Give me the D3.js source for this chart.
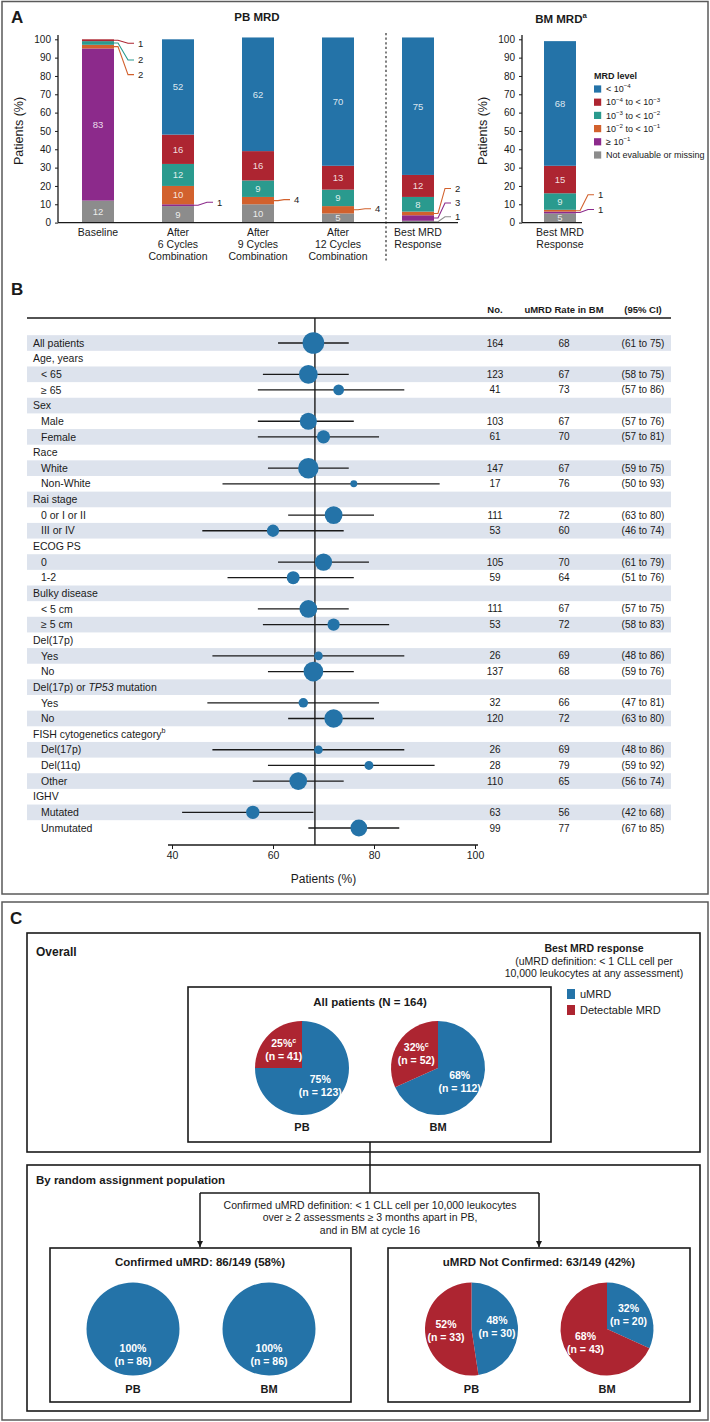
<!DOCTYPE html>
<html><head><meta charset="utf-8">
<script src="https://cdn.jsdelivr.net/npm/d3@7"></script>
<style>
body{margin:0;background:#fff;}
svg{display:block;font-family:"Liberation Sans",Arial,Helvetica,sans-serif;}
</style></head><body>
<svg id="c" width="710" height="1422"></svg>
<script>
// ================= DATA =================
// Panel A – PB MRD (stacked, % of patients), bottom to top
const pbCategories = ["Baseline", "After 6 Cycles Combination", "After 9 Cycles Combination", "After 12 Cycles Combination", "Best MRD Response"];
const pbCategoryLines = [["Baseline"], ["After", "6 Cycles", "Combination"], ["After", "9 Cycles", "Combination"], ["After", "12 Cycles", "Combination"], ["Best MRD", "Response"]];
const pbNotEvaluable = [12, 9, 10, 5, 1];
const pbGe1 = [83, 1, 0, 0, 3];
const pb2to1 = [2, 10, 4, 4, 2];
const pb3to2 = [2, 12, 9, 9, 8];
const pb4to3 = [1, 16, 16, 13, 12];
const pbLt4 = [0, 52, 62, 70, 75];
// Panel A – BM MRD
const bmCategories = ["Best MRD Response"];
const bmCategoryLines = [["Best MRD", "Response"]];
const bmNotEvaluable = [5];
const bmGe1 = [1];
const bm2to1 = [1];
const bm3to2 = [9];
const bm4to3 = [15];
const bmLt4 = [68];
const yTicksA = [0, 10, 20, 30, 40, 50, 60, 70, 80, 90, 100];
const mrdLevelLabels = ["< 10^{−4}", "10^{−4} to < 10^{−3}", "10^{−3} to < 10^{−2}", "10^{−2} to < 10^{−1}", "≥ 10^{−1}", "Not evaluable or missing"];

// Panel B – forest plot
const forestLabels = ["All patients", "Age, years", "< 65", "≥ 65", "Sex", "Male", "Female", "Race", "White", "Non-White", "Rai stage", "0 or I or II", "III or IV", "ECOG PS", "0", "1-2", "Bulky disease", "< 5 cm", "≥ 5 cm", "Del(17p)", "Yes", "No", "Del(17p) or *TP53* mutation", "Yes", "No", "FISH cytogenetics category^{b}", "Del(17p)", "Del(11q)", "Other", "IGHV", "Mutated", "Unmutated"];
const forestIndent = [0, 0, 1, 1, 0, 1, 1, 0, 1, 1, 0, 1, 1, 0, 1, 1, 0, 1, 1, 0, 1, 1, 0, 1, 1, 0, 1, 1, 1, 0, 1, 1];
const forestN =    [164, null, 123, 41, null, 103, 61, null, 147, 17, null, 111, 53, null, 105, 59, null, 111, 53, null, 26, 137, null, 32, 120, null, 26, 28, 110, null, 63, 99];
const forestRate = [68, null, 67, 73, null, 67, 70, null, 67, 76, null, 72, 60, null, 70, 64, null, 67, 72, null, 69, 68, null, 66, 72, null, 69, 79, 65, null, 56, 77];
const forestLo =   [61, null, 58, 57, null, 57, 57, null, 59, 50, null, 63, 46, null, 61, 51, null, 57, 58, null, 48, 59, null, 47, 63, null, 48, 59, 56, null, 42, 67];
const forestHi =   [75, null, 75, 86, null, 76, 81, null, 75, 93, null, 80, 74, null, 79, 76, null, 75, 83, null, 86, 76, null, 81, 80, null, 86, 92, 74, null, 68, 85];
const forestRefRate = 68.3;
const forestTicks = [40, 60, 80, 100];
const forestHeaders = ["No.", "uMRD Rate in BM", "(95% CI)"];

// Panel C – pies (uMRD, detectable MRD)
const pieSites = ["PB", "BM"];
const overallUmrdN = [123, 112];
const overallDetectN = [41, 52];
const overallUmrdPct = [75, 68];
const overallDetectPct = [25, 32];
const confirmedUmrdN = [86, 86];
const confirmedDetectN = [0, 0];
const confirmedUmrdPct = [100, 100];
const confirmedDetectPct = [0, 0];
const notConfUmrdN = [30, 20];
const notConfDetectN = [33, 43];
const notConfUmrdPct = [48, 32];
const notConfDetectPct = [52, 68];

// ================= STYLE =================
const C = {blue: "#2473a8", red: "#ad2531", teal: "#2a9a8e", orange: "#d2612d", purple: "#8c2a8b", gray: "#8c8c8c", band: "#dde3ed", ink: "#1a1a1a"};
const levelKeys = ["ne", "ge1", "e2", "e3", "e4", "lt4"]; // bottom -> top
const levelColor = {lt4: C.blue, e4: C.red, e3: C.teal, e2: C.orange, ge1: C.purple, ne: C.gray};
const legendKeys = ["lt4", "e4", "e3", "e2", "ge1", "ne"];

// condensed font for panel C, if installed
const cv = document.createElement("canvas").getContext("2d");
function w(f) { cv.font = f; return cv.measureText("Overall All patients 164").width; }
const narrowOK = w("40px 'Liberation Sans Narrow', monospace") !== w("40px monospace");
const cFamily = narrowOK ? "'Liberation Sans Narrow', 'Liberation Sans', Arial, sans-serif" : "'Liberation Sans', Arial, sans-serif";
const cScale = narrowOK ? 1.16 : 1;

const svg = d3.select("#c");
svg.append("rect").attr("width", 710).attr("height", 1422).attr("fill", "#fff");

function rich(t, str, fs) {
  const parts = str.split(/(\^\{[^}]*\}|\*[^*]+\*)/).filter(s => s.length);
  let shifted = false;
  parts.forEach(p => {
    let ts;
    if (p.startsWith("^{")) {
      ts = t.append("tspan").text(p.slice(2, -1)).attr("font-size", fs * 0.68).attr("dy", -fs * 0.42);
      shifted = true;
      return;
    } else if (p.startsWith("*")) {
      ts = t.append("tspan").text(p.slice(1, -1)).attr("font-style", "italic");
    } else {
      ts = t.append("tspan").text(p);
    }
    if (shifted) { ts.attr("dy", fs * 0.42); shifted = false; }
  });
  return t;
}
function txt(g, x, y, s, fs, opt = {}) {
  const t = g.append("text").attr("x", x).attr("y", y).attr("font-size", fs)
    .attr("fill", opt.fill || C.ink).attr("text-anchor", opt.anchor || "start")
    .attr("font-weight", opt.bold ? "bold" : "normal").attr("dy", opt.dy || "0.35em");
  if (opt.family) t.attr("font-family", opt.family);
  rich(t, s, fs);
  return t;
}
function cTxt(g, x, y, s, fs, opt = {}) {
  return txt(g, x, y, s, fs * cScale, Object.assign({}, opt, {family: cFamily}));
}

// ================= PANEL A/B FRAME =================
svg.append("rect").attr("x", 2).attr("y", 1.5).attr("width", 706).attr("height", 892.5)
  .attr("fill", "none").attr("stroke", "#5a5a5a").attr("stroke-width", 1.5);
txt(svg, 11, 17, "A", 17, {bold: true});
txt(svg, 11, 289, "B", 17, {bold: true});

// ================= PANEL A =================
const yA = d3.scaleLinear().domain([0, 100]).range([222.6, 39.3]);
const barW = 32;

function stackedPanel(g, cats, lines, table, xScale, axisX0, axisX1, yTitleX, callouts) {
  const series = d3.stack().keys(levelKeys)(table);
  const ax = g.append("g").attr("transform", `translate(${axisX0},0)`)
    .call(d3.axisLeft(yA).tickValues(yTicksA).tickSize(3).tickSizeOuter(0));
  ax.select(".domain").attr("stroke", C.ink).attr("stroke-width", 1.3).attr("d", `M-0,${yA(0)}V35`);
  ax.selectAll(".tick line").attr("stroke", C.ink);
  ax.selectAll(".tick text").attr("font-size", 10).attr("fill", C.ink).attr("font-family", "Liberation Sans, Arial, sans-serif").attr("x", -7);
  g.append("text").attr("transform", `translate(${yTitleX},${(yA(0) + yA(100)) / 2}) rotate(-90)`)
    .attr("text-anchor", "middle").attr("dy", "0.35em").attr("font-size", 12.5).attr("fill", C.ink).text("Patients (%)");
  series.forEach(s => {
    s.forEach((d, i) => {
      const v = d[1] - d[0];
      if (v <= 0) return;
      const cx = xScale(cats[i]);
      g.append("rect").attr("x", cx - barW / 2).attr("y", yA(d[1])).attr("width", barW)
        .attr("height", yA(d[0]) - yA(d[1])).attr("fill", levelColor[s.key]);
      if (v >= 5) {
        g.append("text").attr("x", cx).attr("y", (yA(d[0]) + yA(d[1])) / 2).attr("dy", "0.35em")
          .attr("text-anchor", "middle").attr("font-size", 9.5).attr("fill", "#fff").attr("fill-opacity", 0.85).text(v);
      }
    });
  });
  callouts.forEach(co => {
    const s = series.find(ss => ss.key === co.key);
    const d = s[co.i];
    const v = d[1] - d[0];
    const x0 = xScale(cats[co.i]) + barW / 2;
    const y0 = (yA(d[0]) + yA(d[1])) / 2;
    const lx = x0 + co.dx, ly = y0 + co.dy;
    g.append("path").attr("d", `M${x0},${y0}L${x0 + 4},${y0}L${lx - 10},${ly}L${lx - 4},${ly}`)
      .attr("fill", "none").attr("stroke", levelColor[co.key]).attr("stroke-width", 1.1);
    g.append("text").attr("x", lx).attr("y", ly).attr("dy", "0.35em").attr("font-size", 9.5).attr("fill", C.ink).text(v);
  });
  g.append("line").attr("x1", axisX0).attr("x2", axisX1).attr("y1", yA(0)).attr("y2", yA(0))
    .attr("stroke", C.ink).attr("stroke-width", 1.3);
  cats.forEach((c, i) => {
    lines[i].forEach((ln, j) => {
      g.append("text").attr("x", xScale(c)).attr("y", 232.5 + j * 11.7).attr("dy", "0.35em")
        .attr("text-anchor", "middle").attr("font-size", 10.5).attr("fill", C.ink).text(ln);
    });
  });
}

const pbTable = pbCategories.map((c, i) => ({cat: c, ne: pbNotEvaluable[i], ge1: pbGe1[i], e2: pb2to1[i], e3: pb3to2[i], e4: pb4to3[i], lt4: pbLt4[i]}));
const bmTable = bmCategories.map((c, i) => ({cat: c, ne: bmNotEvaluable[i], ge1: bmGe1[i], e2: bm2to1[i], e3: bm3to2[i], e4: bm4to3[i], lt4: bmLt4[i]}));
const xPB = d3.scalePoint().domain(pbCategories).range([58, 458]).padding(0.5);
const xBM = d3.scalePoint().domain(bmCategories).range([522, 598]).padding(0.5);

const gA = svg.append("g");
stackedPanel(gA, pbCategories, pbCategoryLines, pbTable, xPB, 58, 458, 19, [
  {i: 0, key: "e4", dx: 24, dy: 3}, {i: 0, key: "e3", dx: 24, dy: 17}, {i: 0, key: "e2", dx: 24, dy: 28},
  {i: 1, key: "ge1", dx: 23, dy: -3},
  {i: 2, key: "e2", dx: 20, dy: -1},
  {i: 3, key: "e2", dx: 21, dy: -1},
  {i: 4, key: "e2", dx: 21, dy: -25}, {i: 4, key: "ge1", dx: 21, dy: -15}, {i: 4, key: "ne", dx: 21, dy: -5}
]);
stackedPanel(gA, bmCategories, bmCategoryLines, bmTable, xBM, 522, 582, 483, [
  {i: 0, key: "e2", dx: 22, dy: -16}, {i: 0, key: "ge1", dx: 22, dy: -3}
]);
txt(gA, 257, 17, "PB MRD", 11.5, {bold: true, anchor: "middle"});
txt(gA, 561, 19, "BM MRD^{a}", 11.5, {bold: true, anchor: "middle"});
gA.append("line").attr("x1", 386).attr("x2", 386).attr("y1", 33).attr("y2", 262)
  .attr("stroke", C.ink).attr("stroke-width", 1.1).attr("stroke-dasharray", "2.2,2.4");
const lg = gA.append("g");
txt(lg, 594, 76, "MRD level", 9, {bold: true});
legendKeys.forEach((k, j) => {
  const yy = 89 + j * 13.2;
  lg.append("rect").attr("x", 594).attr("y", yy - 3.6).attr("width", 7.2).attr("height", 7.2).attr("fill", levelColor[k]);
  txt(lg, 606, yy, mrdLevelLabels[j], 9);
});

// ================= PANEL B =================
const gB = svg.append("g");
const yF = d3.scalePoint().domain(d3.range(forestLabels.length)).range([343, 828]);
const rowH = yF.step();
const xF = d3.scaleLinear().domain([40, 100]).range([172, 475]);
const rF = d3.scaleSqrt().domain([0, 164]).range([0, 10.8]);
const colX = [495, 564, 643];

forestLabels.forEach((l, i) => {
  if (i % 2 === 0) gB.append("rect").attr("x", 27).attr("y", yF(i) - rowH / 2).attr("width", 644).attr("height", rowH).attr("fill", C.band);
});
forestHeaders.forEach((h, j) => txt(gB, colX[j], 310, h, 9.5, {bold: true, anchor: "middle"}));
gB.append("line").attr("x1", 27).attr("x2", 671).attr("y1", 318).attr("y2", 318).attr("stroke", C.ink).attr("stroke-width", 1.5);
gB.append("line").attr("x1", xF(forestRefRate)).attr("x2", xF(forestRefRate)).attr("y1", 318).attr("y2", 845)
  .attr("stroke", C.ink).attr("stroke-width", 1.4);
forestLabels.forEach((l, i) => {
  txt(gB, forestIndent[i] ? 41 : 33, yF(i), l, 10.5);
  if (forestN[i] == null) return;
  gB.append("line").attr("x1", xF(forestLo[i])).attr("x2", xF(forestHi[i])).attr("y1", yF(i)).attr("y2", yF(i))
    .attr("stroke", C.ink).attr("stroke-width", 1.3);
  gB.append("circle").attr("cx", xF(forestRate[i])).attr("cy", yF(i)).attr("r", rF(forestN[i])).attr("fill", C.blue);
  txt(gB, colX[0], yF(i), String(forestN[i]), 10, {anchor: "middle"});
  txt(gB, colX[1], yF(i), String(forestRate[i]), 10, {anchor: "middle"});
  txt(gB, colX[2], yF(i), `(${forestLo[i]} to ${forestHi[i]})`, 10, {anchor: "middle"});
});
const axB = gB.append("g").attr("transform", "translate(0,845)")
  .call(d3.axisBottom(xF).tickValues(forestTicks).tickSize(4).tickSizeOuter(0));
axB.select(".domain").attr("stroke", C.ink).attr("stroke-width", 1.4).attr("d", "M168,0H478");
axB.selectAll(".tick line").attr("stroke", C.ink);
axB.selectAll(".tick text").attr("font-size", 10.5).attr("fill", C.ink).attr("font-family", "Liberation Sans, Arial, sans-serif");
txt(gB, (xF(40) + xF(100)) / 2, 879, "Patients (%)", 12, {anchor: "middle"});

// ================= PANEL C =================
const gC = svg.append("g");
const boxStroke = (x, y, w, h, col, sw) => gC.append("rect").attr("x", x).attr("y", y).attr("width", w).attr("height", h)
  .attr("fill", "none").attr("stroke", col).attr("stroke-width", sw);
boxStroke(2, 902, 706, 518, "#5a5a5a", 1.5);
txt(gC, 10, 918, "C", 17, {bold: true});
boxStroke(27, 933, 673, 219, C.ink, 1.6);
cTxt(gC, 36, 952, "Overall", 12, {bold: true});
cTxt(gC, 594, 948, "Best MRD response", 10.5, {bold: true, anchor: "middle"});
cTxt(gC, 594, 961, "(uMRD definition: < 1 CLL cell per", 10.5, {anchor: "middle"});
cTxt(gC, 594, 973.5, "10,000 leukocytes at any assessment)", 10.5, {anchor: "middle"});
gC.append("rect").attr("x", 567).attr("y", 989).attr("width", 8).attr("height", 10).attr("fill", C.blue);
cTxt(gC, 580, 994, "uMRD", 11);
gC.append("rect").attr("x", 567).attr("y", 1005).attr("width", 8).attr("height", 10).attr("fill", C.red);
cTxt(gC, 580, 1010, "Detectable MRD", 11);

boxStroke(188, 987, 363, 155, C.ink, 1.6);
cTxt(gC, 370, 1002, "All patients (N = 164)", 11.5, {bold: true, anchor: "middle"});

boxStroke(27, 1165, 673, 246, C.ink, 1.6);
cTxt(gC, 36, 1180, "By random assignment population", 11.5, {bold: true});

const defs = svg.append("defs");
defs.append("marker").attr("id", "ah").attr("viewBox", "0 0 10 10").attr("refX", 10).attr("refY", 5)
  .attr("markerWidth", 6).attr("markerHeight", 8).attr("markerUnits", "userSpaceOnUse").attr("orient", "auto")
  .append("path").attr("d", "M0,0L10,5L0,10Z").attr("fill", C.ink);
gC.append("path").attr("d", "M370,1142V1193M200,1193H539").attr("stroke", C.ink).attr("stroke-width", 1.5).attr("fill", "none");
gC.append("line").attr("x1", 200).attr("x2", 200).attr("y1", 1193).attr("y2", 1247).attr("stroke", C.ink).attr("stroke-width", 1.5).attr("marker-end", "url(#ah)");
gC.append("line").attr("x1", 539).attr("x2", 539).attr("y1", 1193).attr("y2", 1247).attr("stroke", C.ink).attr("stroke-width", 1.5).attr("marker-end", "url(#ah)");
cTxt(gC, 370, 1205, "Confirmed uMRD definition: < 1 CLL cell per 10,000 leukocytes", 10.5, {anchor: "middle"});
cTxt(gC, 370, 1217.5, "over ≥ 2 assessments ≥ 3 months apart in PB,", 10.5, {anchor: "middle"});
cTxt(gC, 370, 1230, "and in BM at cycle 16", 10.5, {anchor: "middle"});

boxStroke(50, 1248, 301, 154, C.ink, 1.6);
cTxt(gC, 200, 1262, "Confirmed uMRD: 86/149 (58%)", 11.5, {bold: true, anchor: "middle"});
boxStroke(388, 1248, 302, 154, C.ink, 1.6);
cTxt(gC, 539, 1262, "uMRD Not Confirmed: 63/149 (42%)", 11.5, {bold: true, anchor: "middle"});

const pieGen = d3.pie().sort(null).value(d => d.n);
function drawPie(cx, cy, r, umrdN, detN, umrdPct, detPct, sup, site, siteY) {
  const data = [{n: umrdN, pct: umrdPct, col: C.blue, sup: ""}, {n: detN, pct: detPct, col: C.red, sup: sup}];
  const arcs = pieGen(data);
  const arc = d3.arc().innerRadius(0).outerRadius(r);
  const lab = d3.arc().innerRadius(r * 0.55).outerRadius(r * 0.55);
  const g = gC.append("g").attr("transform", `translate(${cx},${cy})`);
  arcs.forEach(a => {
    if (a.data.n <= 0) return;
    g.append("path").attr("d", arc(a)).attr("fill", a.data.col);
  });
  arcs.forEach(a => {
    if (a.data.n <= 0) return;
    const [lx, ly] = lab.centroid(a);
    cTxt(g, lx, ly - 6.5, `${a.data.pct}%${a.data.sup ? "^{" + a.data.sup + "}" : ""}`, 10.5, {anchor: "middle", fill: "#fff", bold: true});
    cTxt(g, lx, ly + 6.5, `(n = ${a.data.n})`, 10.5, {anchor: "middle", fill: "#fff", bold: true});
  });
  cTxt(gC, cx, siteY, site, 11, {bold: true, anchor: "middle"});
}
const overallCx = [302, 438];
const confCx = [133, 269];
const notConfCx = [471.5, 607];
pieSites.forEach((s, i) => {
  drawPie(overallCx[i], 1068, 47, overallUmrdN[i], overallDetectN[i], overallUmrdPct[i], overallDetectPct[i], "c", s, 1127);
  drawPie(confCx[i], 1329, 46.5, confirmedUmrdN[i], confirmedDetectN[i], confirmedUmrdPct[i], confirmedDetectPct[i], "", s, 1389);
  drawPie(notConfCx[i], 1329, 46.5, notConfUmrdN[i], notConfDetectN[i], notConfUmrdPct[i], notConfDetectPct[i], "", s, 1389);
});
</script>
</body></html>
